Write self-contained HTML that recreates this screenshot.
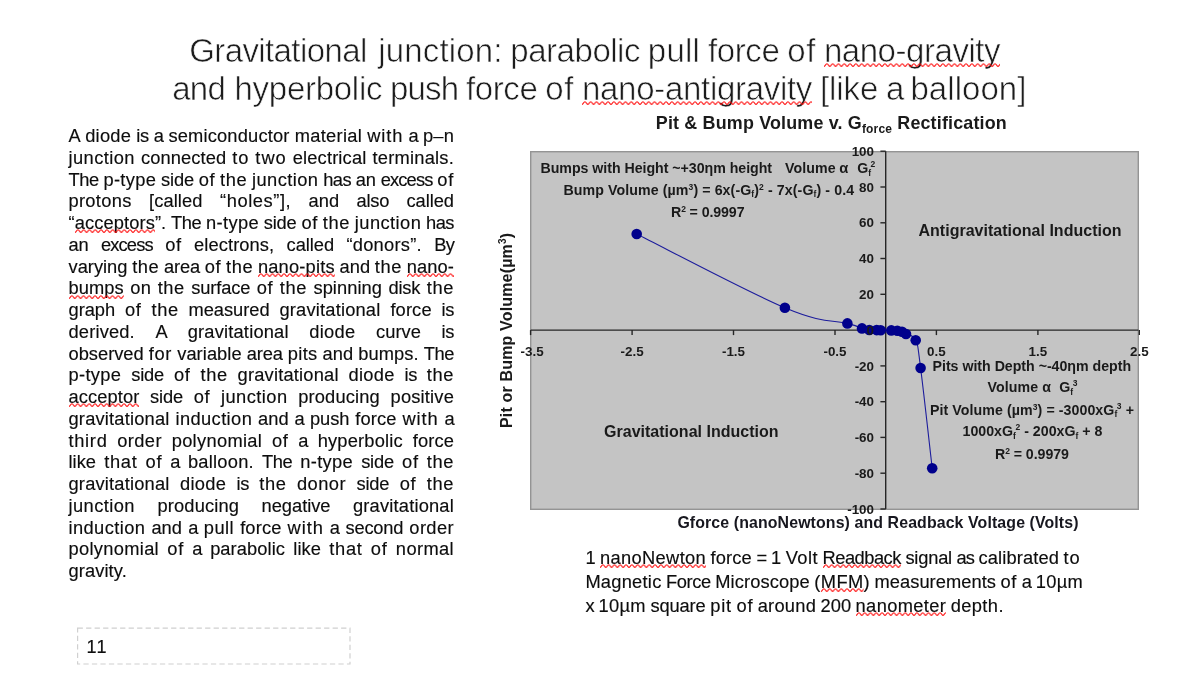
<!DOCTYPE html>
<html lang="en"><head><meta charset="utf-8"><title>Gravitational junction</title>
<style>
html,body{margin:0;padding:0;background:#fff;}
body{width:1200px;height:676px;position:relative;overflow:hidden;font-family:"Liberation Sans",sans-serif;color:#111;}
.abs{position:absolute;white-space:nowrap;}
.ln{position:absolute;left:0;width:1200px;white-space:nowrap;}
.ln span.w{position:absolute;top:0;white-space:pre;}
.pl{font-size:18.3px;line-height:21.75px;height:21.75px;color:#0d0d0d;-webkit-text-stroke:0.15px #0d0d0d;}
.sq{position:relative;display:inline-block;}
.sqs{position:absolute;left:0;bottom:-0.5px;width:100%;height:5px;overflow:hidden;}
.title{font-size:33.0px;line-height:38px;height:38px;color:#1c1c1c;-webkit-text-stroke:0.6px #fff;}
.title .sqs{bottom:2px;}
.cap{font-size:18.3px;line-height:24px;height:24px;color:#0d0d0d;-webkit-text-stroke:0.15px #0d0d0d;}
.cap .sqs{bottom:0.5px;}
</style></head><body>
<svg width="0" height="0" style="position:absolute"><defs>
<pattern id="sqp" x="0" y="0" width="5.8" height="5" patternUnits="userSpaceOnUse"><path d="M-0.1,3.4 Q0.7,3.4 1.45,2.1 T2.9,0.8 T4.35,2.1 T5.9,3.4" fill="none" stroke="#ff0a0a" stroke-width="1.1"/></pattern>
</defs></svg>

<div class="ln title" id="t0" style="top:32.47px">
<span class="w" style="left:189.20px;letter-spacing:-0.602px">Gravitational</span> <span class="w" style="left:378.26px;letter-spacing:0.149px">junction:</span> <span class="w" style="left:510.35px;letter-spacing:-0.474px">parabolic</span> <span class="w" style="left:647.83px;letter-spacing:0.220px">pull</span> <span class="w" style="left:707.91px;letter-spacing:-0.375px">force</span> <span class="w" style="left:787.24px;letter-spacing:0.643px">of</span> <span class="w" style="left:823.88px;letter-spacing:-0.444px"><span class="sq">nano-gravity<svg class="sqs"><rect width="100%" height="5" fill="url(#sqp)"/></svg></span></span>
</div>
<div class="ln title" id="t1" style="top:70.47px">
<span class="w" style="left:172.15px;letter-spacing:-0.700px">and</span> <span class="w" style="left:234.54px;letter-spacing:-0.275px">hyperbolic</span> <span class="w" style="left:390.04px;letter-spacing:-0.863px">push</span> <span class="w" style="left:465.98px;letter-spacing:-0.370px">force</span> <span class="w" style="left:545.33px;letter-spacing:0.648px">of</span> <span class="w" style="left:581.98px;letter-spacing:-0.296px"><span class="sq">nano-antigravity<svg class="sqs"><rect width="100%" height="5" fill="url(#sqp)"/></svg></span></span> <span class="w" style="left:819.88px;letter-spacing:-0.066px">[like</span> <span class="w" style="left:886.07px;letter-spacing:-1.774px">a</span> <span class="w" style="left:910.48px;letter-spacing:0.047px">balloon]</span>
</div>
<div class="ln pl" id="p0" style="top:125.03px">
<span class="w" style="left:68.50px;letter-spacing:-0.628px">A</span> <span class="w" style="left:85.13px;letter-spacing:0.274px">diode</span> <span class="w" style="left:136.29px;letter-spacing:-0.395px">is</span> <span class="w" style="left:153.76px;letter-spacing:-0.591px">a</span> <span class="w" style="left:168.40px;letter-spacing:0.176px">semiconductor</span> <span class="w" style="left:294.64px;letter-spacing:0.314px">material</span> <span class="w" style="left:367.24px;letter-spacing:0.895px">with</span> <span class="w" style="left:408.38px;letter-spacing:-0.591px">a</span> <span class="w" style="left:423.02px;letter-spacing:0.154px">p–n</span>
</div>
<div class="ln pl" id="p1" style="top:146.78px">
<span class="w" style="left:68.50px;letter-spacing:0.430px">junction</span> <span class="w" style="left:141.00px;letter-spacing:0.092px">connected</span> <span class="w" style="left:232.25px;letter-spacing:0.902px">to</span> <span class="w" style="left:255.35px;letter-spacing:0.969px">two</span> <span class="w" style="left:292.76px;letter-spacing:0.153px">electrical</span> <span class="w" style="left:372.47px;letter-spacing:0.228px">terminals.</span>
</div>
<div class="ln pl" id="p2" style="top:168.53px">
<span class="w" style="left:68.50px;letter-spacing:-0.436px">The</span> <span class="w" style="left:103.45px;letter-spacing:0.339px">p-type</span> <span class="w" style="left:161.05px;letter-spacing:-0.169px">side</span> <span class="w" style="left:198.67px;letter-spacing:0.702px">of</span> <span class="w" style="left:220.07px;letter-spacing:0.579px">the</span> <span class="w" style="left:251.98px;letter-spacing:0.430px">junction</span> <span class="w" style="left:323.18px;letter-spacing:-0.524px">has</span> <span class="w" style="left:355.84px;letter-spacing:-0.127px">an</span> <span class="w" style="left:380.68px;letter-spacing:-0.832px">excess</span> <span class="w" style="left:437.35px;letter-spacing:0.702px">of</span>
</div>
<div class="ln pl" id="p3" style="top:190.28px">
<span class="w" style="left:68.50px;letter-spacing:0.300px">protons</span> <span class="w" style="left:148.95px;letter-spacing:0.112px">[called</span> <span class="w" style="left:219.97px;letter-spacing:0.582px">“holes”],</span> <span class="w" style="left:308.61px;letter-spacing:0.027px">and</span> <span class="w" style="left:356.58px;letter-spacing:-0.252px">also</span> <span class="w" style="left:406.49px;letter-spacing:-0.042px">called</span>
</div>
<div class="ln pl" id="p4" style="top:212.03px">
<span class="w" style="left:68.50px;letter-spacing:0.104px">“<span class="sq">acceptors<svg class="sqs"><rect width="100%" height="5" fill="url(#sqp)"/></svg></span>”.</span> <span class="w" style="left:171.07px;letter-spacing:-0.436px">The</span> <span class="w" style="left:206.08px;letter-spacing:0.339px">n-type</span> <span class="w" style="left:263.73px;letter-spacing:-0.169px">side</span> <span class="w" style="left:301.41px;letter-spacing:0.702px">of</span> <span class="w" style="left:322.86px;letter-spacing:0.579px">the</span> <span class="w" style="left:354.83px;letter-spacing:0.430px">junction</span> <span class="w" style="left:426.09px;letter-spacing:-0.524px">has</span>
</div>
<div class="ln pl" id="p5" style="top:233.78px">
<span class="w" style="left:68.50px;letter-spacing:-0.127px">an</span> <span class="w" style="left:100.90px;letter-spacing:-0.832px">excess</span> <span class="w" style="left:165.13px;letter-spacing:0.702px">of</span> <span class="w" style="left:194.10px;letter-spacing:0.090px">electrons,</span> <span class="w" style="left:286.58px;letter-spacing:-0.042px">called</span> <span class="w" style="left:346.41px;letter-spacing:0.265px">“donors”.</span> <span class="w" style="left:434.26px;letter-spacing:-0.803px">By</span>
</div>
<div class="ln pl" id="p6" style="top:255.53px">
<span class="w" style="left:68.50px;letter-spacing:0.003px">varying</span> <span class="w" style="left:132.19px;letter-spacing:0.579px">the</span> <span class="w" style="left:164.08px;letter-spacing:-0.193px">area</span> <span class="w" style="left:204.63px;letter-spacing:0.702px">of</span> <span class="w" style="left:226.01px;letter-spacing:0.579px">the</span> <span class="w" style="left:257.90px;letter-spacing:0.185px"><span class="sq">nano-pits<svg class="sqs"><rect width="100%" height="5" fill="url(#sqp)"/></svg></span></span> <span class="w" style="left:339.52px;letter-spacing:0.027px">and</span> <span class="w" style="left:374.84px;letter-spacing:0.579px">the</span> <span class="w" style="left:406.73px;letter-spacing:0.100px"><span class="sq">nano-<svg class="sqs"><rect width="100%" height="5" fill="url(#sqp)"/></svg></span></span>
</div>
<div class="ln pl" id="p7" style="top:277.28px">
<span class="w" style="left:68.50px;letter-spacing:0.070px"><span class="sq">bumps<svg class="sqs"><rect width="100%" height="5" fill="url(#sqp)"/></svg></span></span> <span class="w" style="left:130.18px;letter-spacing:0.356px">on</span> <span class="w" style="left:157.69px;letter-spacing:0.579px">the</span> <span class="w" style="left:191.30px;letter-spacing:-0.135px">surface</span> <span class="w" style="left:256.76px;letter-spacing:0.702px">of</span> <span class="w" style="left:279.86px;letter-spacing:0.579px">the</span> <span class="w" style="left:313.47px;letter-spacing:0.043px">spinning</span> <span class="w" style="left:388.38px;letter-spacing:-0.126px">disk</span> <span class="w" style="left:426.84px;letter-spacing:0.579px">the</span>
</div>
<div class="ln pl" id="p8" style="top:299.03px">
<span class="w" style="left:68.50px;letter-spacing:-0.038px">graph</span> <span class="w" style="left:124.96px;letter-spacing:0.702px">of</span> <span class="w" style="left:151.50px;letter-spacing:0.579px">the</span> <span class="w" style="left:188.54px;letter-spacing:-0.036px">measured</span> <span class="w" style="left:279.43px;letter-spacing:0.191px">gravitational</span> <span class="w" style="left:390.38px;letter-spacing:0.133px">force</span> <span class="w" style="left:441.59px;letter-spacing:-0.395px">is</span>
</div>
<div class="ln pl" id="p9" style="top:320.78px">
<span class="w" style="left:68.50px;letter-spacing:0.165px">derived.</span> <span class="w" style="left:155.48px;letter-spacing:-0.628px">A</span> <span class="w" style="left:187.67px;letter-spacing:0.191px">gravitational</span> <span class="w" style="left:309.34px;letter-spacing:0.274px">diode</span> <span class="w" style="left:376.06px;letter-spacing:0.039px">curve</span> <span class="w" style="left:441.59px;letter-spacing:-0.395px">is</span>
</div>
<div class="ln pl" id="p10" style="top:342.53px">
<span class="w" style="left:68.50px;letter-spacing:-0.004px">observed</span> <span class="w" style="left:148.84px;letter-spacing:0.620px">for</span> <span class="w" style="left:177.20px;letter-spacing:0.060px">variable</span> <span class="w" style="left:246.86px;letter-spacing:-0.193px">area</span> <span class="w" style="left:287.84px;letter-spacing:0.292px">pits</span> <span class="w" style="left:322.61px;letter-spacing:0.027px">and</span> <span class="w" style="left:358.37px;letter-spacing:0.054px">bumps.</span> <span class="w" style="left:423.79px;letter-spacing:-0.436px">The</span>
</div>
<div class="ln pl" id="p11" style="top:364.28px">
<span class="w" style="left:68.50px;letter-spacing:0.339px">p-type</span> <span class="w" style="left:131.23px;letter-spacing:-0.169px">side</span> <span class="w" style="left:174.00px;letter-spacing:0.702px">of</span> <span class="w" style="left:200.54px;letter-spacing:0.579px">the</span> <span class="w" style="left:237.59px;letter-spacing:0.191px">gravitational</span> <span class="w" style="left:348.54px;letter-spacing:0.274px">diode</span> <span class="w" style="left:404.54px;letter-spacing:-0.395px">is</span> <span class="w" style="left:426.84px;letter-spacing:0.579px">the</span>
</div>
<div class="ln pl" id="p12" style="top:386.03px">
<span class="w" style="left:68.50px;letter-spacing:0.096px"><span class="sq">acceptor<svg class="sqs"><rect width="100%" height="5" fill="url(#sqp)"/></svg></span></span> <span class="w" style="left:150.10px;letter-spacing:-0.169px">side</span> <span class="w" style="left:193.68px;letter-spacing:0.702px">of</span> <span class="w" style="left:221.04px;letter-spacing:0.430px">junction</span> <span class="w" style="left:298.20px;letter-spacing:0.155px">producing</span> <span class="w" style="left:390.60px;letter-spacing:0.175px">positive</span>
</div>
<div class="ln pl" id="p13" style="top:407.78px">
<span class="w" style="left:68.50px;letter-spacing:0.191px">gravitational</span> <span class="w" style="left:175.44px;letter-spacing:0.398px">induction</span> <span class="w" style="left:258.09px;letter-spacing:0.027px">and</span> <span class="w" style="left:294.57px;letter-spacing:-0.591px">a</span> <span class="w" style="left:310.03px;letter-spacing:-0.077px">push</span> <span class="w" style="left:355.25px;letter-spacing:0.133px">force</span> <span class="w" style="left:402.45px;letter-spacing:0.895px">with</span> <span class="w" style="left:444.42px;letter-spacing:-0.591px">a</span>
</div>
<div class="ln pl" id="p14" style="top:429.53px">
<span class="w" style="left:68.50px;letter-spacing:0.686px">third</span> <span class="w" style="left:117.25px;letter-spacing:0.398px">order</span> <span class="w" style="left:171.67px;letter-spacing:0.310px">polynomial</span> <span class="w" style="left:271.90px;letter-spacing:0.702px">of</span> <span class="w" style="left:298.30px;letter-spacing:-0.591px">a</span> <span class="w" style="left:317.63px;letter-spacing:0.198px">hyperbolic</span> <span class="w" style="left:412.68px;letter-spacing:0.133px">force</span>
</div>
<div class="ln pl" id="p15" style="top:451.28px">
<span class="w" style="left:68.50px;letter-spacing:0.035px">like</span> <span class="w" style="left:104.16px;letter-spacing:0.701px">that</span> <span class="w" style="left:145.54px;letter-spacing:0.702px">of</span> <span class="w" style="left:170.28px;letter-spacing:-0.591px">a</span> <span class="w" style="left:187.94px;letter-spacing:0.234px">balloon.</span> <span class="w" style="left:261.94px;letter-spacing:-0.436px">The</span> <span class="w" style="left:300.23px;letter-spacing:0.339px">n-type</span> <span class="w" style="left:361.15px;letter-spacing:-0.169px">side</span> <span class="w" style="left:402.11px;letter-spacing:0.702px">of</span> <span class="w" style="left:426.84px;letter-spacing:0.579px">the</span>
</div>
<div class="ln pl" id="p16" style="top:473.03px">
<span class="w" style="left:68.50px;letter-spacing:0.191px">gravitational</span> <span class="w" style="left:179.99px;letter-spacing:0.274px">diode</span> <span class="w" style="left:236.53px;letter-spacing:-0.395px">is</span> <span class="w" style="left:259.36px;letter-spacing:0.579px">the</span> <span class="w" style="left:296.95px;letter-spacing:0.464px">donor</span> <span class="w" style="left:356.46px;letter-spacing:-0.169px">side</span> <span class="w" style="left:399.76px;letter-spacing:0.702px">of</span> <span class="w" style="left:426.84px;letter-spacing:0.579px">the</span>
</div>
<div class="ln pl" id="p17" style="top:494.78px">
<span class="w" style="left:68.50px;letter-spacing:0.430px">junction</span> <span class="w" style="left:157.44px;letter-spacing:0.155px">producing</span> <span class="w" style="left:261.62px;letter-spacing:-0.037px">negative</span> <span class="w" style="left:352.93px;letter-spacing:0.191px">gravitational</span>
</div>
<div class="ln pl" id="p18" style="top:516.53px">
<span class="w" style="left:68.50px;letter-spacing:0.398px">induction</span> <span class="w" style="left:151.40px;letter-spacing:0.027px">and</span> <span class="w" style="left:188.13px;letter-spacing:-0.591px">a</span> <span class="w" style="left:203.84px;letter-spacing:0.432px">pull</span> <span class="w" style="left:240.17px;letter-spacing:0.133px">force</span> <span class="w" style="left:287.62px;letter-spacing:0.895px">with</span> <span class="w" style="left:329.85px;letter-spacing:-0.591px">a</span> <span class="w" style="left:345.56px;letter-spacing:-0.221px">second</span> <span class="w" style="left:409.32px;letter-spacing:0.398px">order</span>
</div>
<div class="ln pl" id="p19" style="top:538.28px">
<span class="w" style="left:68.50px;letter-spacing:0.310px">polynomial</span> <span class="w" style="left:167.30px;letter-spacing:0.702px">of</span> <span class="w" style="left:192.26px;letter-spacing:-0.591px">a</span> <span class="w" style="left:210.14px;letter-spacing:0.082px">parabolic</span> <span class="w" style="left:293.37px;letter-spacing:0.035px">like</span> <span class="w" style="left:329.26px;letter-spacing:0.701px">that</span> <span class="w" style="left:370.87px;letter-spacing:0.702px">of</span> <span class="w" style="left:395.83px;letter-spacing:0.381px">normal</span>
</div>
<div class="ln pl" id="p20" style="top:560.03px">
<span class="w" style="left:68.50px;letter-spacing:0.094px">gravity.</span>
</div>
<svg id="chart" width="1200" height="676" viewBox="0 0 1200 676" style="position:absolute;left:0;top:0;filter:blur(0.35px);" font-family="Liberation Sans, sans-serif" font-weight="bold" fill="#1a1a1a">
<rect x="530.7" y="151.7" width="607.5999999999999" height="357.6" fill="#c4c4c4" stroke="#949494" stroke-width="1.4"/>
<g stroke="#262626" stroke-width="1.4" fill="none">
<line x1="885.7" y1="151.20000000000002" x2="885.7" y2="509.0"/>
<line x1="530.7" y1="330.1" x2="1138.3" y2="330.1"/>
<line x1="880.4" y1="509.0" x2="885.7" y2="509.0"/>
<line x1="880.4" y1="473.2" x2="885.7" y2="473.2"/>
<line x1="880.4" y1="437.4" x2="885.7" y2="437.4"/>
<line x1="880.4" y1="401.7" x2="885.7" y2="401.7"/>
<line x1="880.4" y1="365.9" x2="885.7" y2="365.9"/>
<line x1="880.4" y1="330.1" x2="885.7" y2="330.1"/>
<line x1="880.4" y1="294.3" x2="885.7" y2="294.3"/>
<line x1="880.4" y1="258.5" x2="885.7" y2="258.5"/>
<line x1="880.4" y1="222.8" x2="885.7" y2="222.8"/>
<line x1="880.4" y1="187.0" x2="885.7" y2="187.0"/>
<line x1="880.4" y1="151.2" x2="885.7" y2="151.2"/>
<line x1="530.6" y1="330.1" x2="530.6" y2="335.1"/>
<line x1="632.1" y1="330.1" x2="632.1" y2="335.1"/>
<line x1="733.5" y1="330.1" x2="733.5" y2="335.1"/>
<line x1="835.0" y1="330.1" x2="835.0" y2="335.1"/>
<line x1="936.4" y1="330.1" x2="936.4" y2="335.1"/>
<line x1="1037.9" y1="330.1" x2="1037.9" y2="335.1"/>
<line x1="1139.3" y1="330.1" x2="1139.3" y2="335.1"/>
</g>
<path d="M636.7,234.0 C663.4,247.3 747.0,291.7 784.9,307.8 C822.8,323.9 833.5,319.7 847.4,323.4 C861.3,327.1 858.1,327.2 862.0,328.4 C865.9,329.6 866.7,329.7 869.3,330.0 C871.9,330.3 874.6,330.1 876.7,330.1 C878.8,330.1 878.1,330.1 880.7,330.2 C883.3,330.3 888.3,330.3 891.3,330.4 C894.3,330.5 895.4,330.6 897.3,330.8 C899.2,331.0 900.4,331.1 902.0,331.7 C903.6,332.3 903.5,332.5 906.0,334.0 C908.5,335.5 913.1,334.2 915.7,340.3 C918.3,346.4 917.6,345.0 920.6,368.0 C923.6,391.0 930.1,450.2 932.2,468.2" fill="none" stroke="#1c1c9c" stroke-width="1.1"/>
<g fill="#00008c">
<circle cx="636.7" cy="234.0" r="5.3"/>
<circle cx="784.9" cy="307.8" r="5.3"/>
<circle cx="847.4" cy="323.4" r="5.3"/>
<circle cx="862.0" cy="328.4" r="5.3"/>
<circle cx="869.3" cy="330.0" r="5.3"/>
<circle cx="876.7" cy="330.1" r="5.3"/>
<circle cx="880.7" cy="330.2" r="5.3"/>
<circle cx="891.3" cy="330.4" r="5.3"/>
<circle cx="897.3" cy="330.8" r="5.3"/>
<circle cx="902.0" cy="331.7" r="5.3"/>
<circle cx="906.0" cy="334.0" r="5.3"/>
<circle cx="915.7" cy="340.3" r="5.3"/>
<circle cx="920.6" cy="368.0" r="5.3"/>
<circle cx="932.2" cy="468.2" r="5.3"/>
</g>
<g font-size="13.4" text-anchor="end">
<text x="874" y="513.6">-100</text>
<text x="874" y="477.8">-80</text>
<text x="874" y="442.0">-60</text>
<text x="874" y="406.3">-40</text>
<text x="874" y="370.5">-20</text>
<text x="874" y="334.7">0</text>
<text x="874" y="298.9">20</text>
<text x="874" y="263.1">40</text>
<text x="874" y="227.4">60</text>
<text x="874" y="191.6">80</text>
<text x="874" y="155.8">100</text>
</g>
<g font-size="13.4" text-anchor="middle">
<text x="532.1" y="356">-3.5</text>
<text x="632.1" y="356">-2.5</text>
<text x="733.5" y="356">-1.5</text>
<text x="835.0" y="356">-0.5</text>
<text x="936.4" y="356">0.5</text>
<text x="1037.9" y="356">1.5</text>
<text x="1139.3" y="356">2.5</text>
</g>
<text id="ct" x="831.3" y="129.3" font-size="17.9" text-anchor="middle" xml:space="preserve" textLength="351" lengthAdjust="spacing">Pit &amp; Bump Volume v. G<tspan font-size="12" dy="3.5">force</tspan><tspan dy="-3.5"> Rectification</tspan></text>
<text id="a1" x="540.5" y="173.4" font-size="14.2" text-anchor="start" xml:space="preserve" textLength="231.6" lengthAdjust="spacing">Bumps with Height ~+30ηm height</text>
<text id="a1b" x="785.0" y="173.4" font-size="14.2" text-anchor="start" xml:space="preserve" textLength="50.6" lengthAdjust="spacing">Volume</text>
<text id="a1c" x="839.3" y="173.4" font-size="14.8" text-anchor="start" xml:space="preserve">α</text>
<text id="a1d" x="857.2" y="173.4" font-size="14.2" text-anchor="start" xml:space="preserve">G<tspan font-size="8.5" dy="2.5">f</tspan><tspan font-size="8.5" dy="-8.5" dx="-0.5">2</tspan><tspan dy="6">&#8203;</tspan></text>
<text id="a2" x="708.8" y="194.6" font-size="14.2" text-anchor="middle" xml:space="preserve" textLength="290.5" lengthAdjust="spacing">Bump Volume (µm<tspan font-size="8.5" dy="-5">3</tspan><tspan dy="5">&#8203;</tspan>) = 6x(-G<tspan font-size="8.5" dy="2.5">f</tspan><tspan dy="-2.5">&#8203;</tspan>)<tspan font-size="8.5" dy="-5">2</tspan><tspan dy="5">&#8203;</tspan> - 7x(-G<tspan font-size="8.5" dy="2.5">f</tspan><tspan dy="-2.5">&#8203;</tspan>) - 0.4</text>
<text id="a3" x="707.8" y="216.6" font-size="14.2" text-anchor="middle" xml:space="preserve" textLength="73.5" lengthAdjust="spacing">R<tspan font-size="8.5" dy="-5">2</tspan><tspan dy="5">&#8203;</tspan> = 0.9997</text>
<text id="b1" x="1031.8" y="371" font-size="14.2" text-anchor="middle" xml:space="preserve" textLength="198.5" lengthAdjust="spacing">Pits with Depth ~-40ηm depth</text>
<text id="b2" x="1032.5" y="392.3" font-size="14.2" text-anchor="middle" xml:space="preserve" textLength="90" lengthAdjust="spacing">Volume α  G<tspan font-size="8.5" dy="2.5">f</tspan><tspan font-size="8.5" dy="-8.5" dx="-0.5">3</tspan><tspan dy="6">&#8203;</tspan></text>
<text id="b3" x="1032" y="414.5" font-size="14.2" text-anchor="middle" xml:space="preserve" textLength="204" lengthAdjust="spacing">Pit Volume (µm<tspan font-size="8.5" dy="-5">3</tspan><tspan dy="5">&#8203;</tspan>) = -3000xG<tspan font-size="8.5" dy="2.5">f</tspan><tspan font-size="8.5" dy="-8.5" dx="-0.5">3</tspan><tspan dy="6">&#8203;</tspan> +</text>
<text id="b4" x="1032.5" y="436.3" font-size="14.2" text-anchor="middle" xml:space="preserve" textLength="140" lengthAdjust="spacing">1000xG<tspan font-size="8.5" dy="2.5">f</tspan><tspan font-size="8.5" dy="-8.5" dx="-0.5">2</tspan><tspan dy="6">&#8203;</tspan> - 200xG<tspan font-size="8.5" dy="2.5">f</tspan><tspan dy="-2.5">&#8203;</tspan> + 8</text>
<text id="b5" x="1032" y="459" font-size="14.2" text-anchor="middle" xml:space="preserve" textLength="74" lengthAdjust="spacing">R<tspan font-size="8.5" dy="-5">2</tspan><tspan dy="5">&#8203;</tspan> = 0.9979</text>
<text id="r1" x="1020" y="236.3" font-size="16" text-anchor="middle" xml:space="preserve" textLength="203" lengthAdjust="spacing">Antigravitational Induction</text>
<text id="r2" x="691.3" y="437.3" font-size="16" text-anchor="middle" xml:space="preserve" textLength="174.5" lengthAdjust="spacing">Gravitational Induction</text>
<text id="yt" transform="translate(512,330.5) rotate(-90)" font-size="16" text-anchor="middle" textLength="195" lengthAdjust="spacing">Pit or Bump Volume(µm<tspan font-size="10" dy="-6">3</tspan><tspan dy="6">)</tspan></text>
</svg>
<div class="abs" id="xt" style="left:677.4px;top:512.5px;font-size:15.9px;font-weight:bold;color:#17171f;letter-spacing:0.11px;line-height:20px">Gforce (nanoNewtons) and Readback Voltage (Volts)</div>
<div class="ln cap" id="c0" style="top:545.96px">
<span class="w" style="left:585.40px;letter-spacing:-0.019px">1</span> <span class="w" style="left:600.08px;letter-spacing:0.331px"><span class="sq">nanoNewton<svg class="sqs"><rect width="100%" height="5" fill="url(#sqp)"/></svg></span></span> <span class="w" style="left:710.57px;letter-spacing:0.145px">force</span> <span class="w" style="left:756.48px;letter-spacing:-0.710px">=</span> <span class="w" style="left:770.99px;letter-spacing:-0.019px">1</span> <span class="w" style="left:785.67px;letter-spacing:0.473px">Volt</span> <span class="w" style="left:822.59px;letter-spacing:-0.503px"><span class="sq">Readback<svg class="sqs"><rect width="100%" height="5" fill="url(#sqp)"/></svg></span></span> <span class="w" style="left:905.42px;letter-spacing:-0.198px">signal</span> <span class="w" style="left:956.52px;letter-spacing:-0.942px">as</span> <span class="w" style="left:978.48px;letter-spacing:0.130px">calibrated</span> <span class="w" style="left:1063.59px;letter-spacing:0.914px">to</span>
</div>
<div class="ln cap" id="c1" style="top:569.96px">
<span class="w" style="left:585.40px;letter-spacing:0.247px">Magnetic</span> <span class="w" style="left:666.09px;letter-spacing:-0.423px">Force</span> <span class="w" style="left:715.24px;letter-spacing:0.114px">Microscope</span> <span class="w" style="left:814.37px;letter-spacing:0.358px">(<span class="sq">MFM<svg class="sqs"><rect width="100%" height="5" fill="url(#sqp)"/></svg></span>)</span> <span class="w" style="left:874.50px;letter-spacing:0.044px">measurements</span> <span class="w" style="left:1000.49px;letter-spacing:0.714px">of</span> <span class="w" style="left:1021.69px;letter-spacing:-0.576px">a</span> <span class="w" style="left:1035.82px;letter-spacing:0.302px">10µm</span>
</div>
<div class="ln cap" id="c2" style="top:593.96px">
<span class="w" style="left:585.40px;letter-spacing:-0.465px">x</span> <span class="w" style="left:598.60px;letter-spacing:0.302px">10µm</span> <span class="w" style="left:650.45px;letter-spacing:-0.124px">square</span> <span class="w" style="left:710.14px;letter-spacing:0.839px">pit</span> <span class="w" style="left:736.50px;letter-spacing:0.714px">of</span> <span class="w" style="left:757.70px;letter-spacing:0.242px">around</span> <span class="w" style="left:820.62px;letter-spacing:-0.019px">200</span> <span class="w" style="left:855.61px;letter-spacing:0.345px"><span class="sq">nanometer<svg class="sqs"><rect width="100%" height="5" fill="url(#sqp)"/></svg></span></span> <span class="w" style="left:950.65px;letter-spacing:0.398px">depth.</span>
</div>
<svg width="290" height="50" style="position:absolute;left:70px;top:620px"><rect x="7.6" y="8.2" width="272.4" height="35.8" fill="none" stroke="#d0d0d0" stroke-width="1.2" stroke-dasharray="5.3 3.2"/></svg>
<div class="abs" id="sn" style="left:86.5px;top:637.3000000000001px;font-size:18.1px;line-height:20px;letter-spacing:1.2px;color:#0d0d0d;-webkit-text-stroke:0.15px #0d0d0d">11</div>
</body></html>
